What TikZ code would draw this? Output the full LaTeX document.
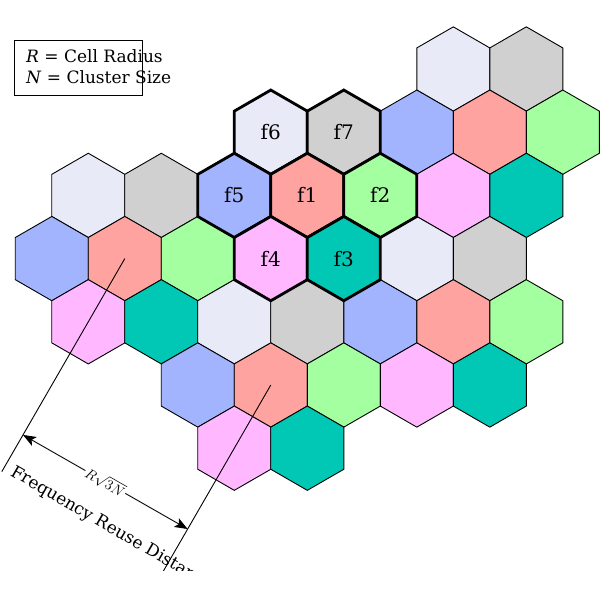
\documentclass[tikz,border=0pt]{standalone}
\usepackage{fontspec}
\setmainfont{DejaVu Serif}
\usetikzlibrary{shapes.geometric,arrows.meta,calc}
\definecolor{clav}{RGB}{232,234,248}
\definecolor{cgray}{RGB}{208,208,208}
\definecolor{cblue}{RGB}{163,180,255}
\definecolor{cred}{RGB}{255,163,160}
\definecolor{cgreen}{RGB}{164,255,160}
\definecolor{cpink}{RGB}{255,184,255}
\definecolor{cteal}{RGB}{0,200,180}
\tikzset{
  cell/.style={regular polygon, regular polygon sides=6, shape border rotate=30,
    minimum size=84.3pt, inner sep=0pt, outer sep=0pt, draw=black, line width=0.9pt,
    font=\fontsize{20}{23}\selectfont},
  cluster/.style={cell, line width=2.8pt},
  legendtext/.style={anchor=base west, inner sep=0pt, font=\fontsize{17}{20}\selectfont},
  extline/.style={line width=0.9pt},
  dimarrow/.style={line width=0.9pt, {Stealth[length=13pt,width=10pt,inset=3pt]}-{Stealth[length=13pt,width=10pt,inset=3pt]}}
}
\begin{document}
\begin{tikzpicture}[x=1pt,y=1pt]
\useasboundingbox (0,0) rectangle (600,600);
% row -2
\node[cell,fill=clav]  (a1) at (453.3,531) {};
\node[cell,fill=cgray] (a2) at (526.3,531) {};
% row -1
\node[cell,fill=cblue]  (b3) at (416.8,467.8) {};
\node[cell,fill=cred]   (b4) at (489.8,467.8) {};
\node[cell,fill=cgreen] (b5) at (562.8,467.8) {};
% row 0
\node[cell,fill=clav]  (c1) at (88.3,404.6) {};
\node[cell,fill=cgray] (c2) at (161.3,404.6) {};
\node[cell,fill=cpink] (c6) at (453.3,404.6) {};
\node[cell,fill=cteal] (c7) at (526.3,404.6) {};
% row 1
\node[cell,fill=cblue]  (d1) at (51.8,341.4) {};
\node[cell,fill=cred]   (d2) at (124.8,341.4) {};
\node[cell,fill=cgreen] (d3) at (197.8,341.4) {};
\node[cell,fill=clav]   (d6) at (416.8,341.4) {};
\node[cell,fill=cgray]  (d7) at (489.8,341.4) {};
% row 2
\node[cell,fill=cpink]  (e1) at (88.3,278.2) {};
\node[cell,fill=cteal]  (e2) at (161.3,278.2) {};
\node[cell,fill=clav]   (e3) at (234.3,278.2) {};
\node[cell,fill=cgray]  (e4) at (307.3,278.2) {};
\node[cell,fill=cblue]  (e5) at (380.3,278.2) {};
\node[cell,fill=cred]   (e6) at (453.3,278.2) {};
\node[cell,fill=cgreen] (e7) at (526.3,278.2) {};
% row 3
\node[cell,fill=cblue]  (g1) at (197.8,215) {};
\node[cell,fill=cred]   (g2) at (270.8,215) {};
\node[cell,fill=cgreen] (g3) at (343.8,215) {};
\node[cell,fill=cpink]  (g4) at (416.8,215) {};
\node[cell,fill=cteal]  (g5) at (489.8,215) {};
% row 4
\node[cell,fill=cpink]  (k1) at (234.3,151.8) {};
\node[cell,fill=cteal]  (k2) at (307.3,151.8) {};
% cluster
\node[cluster,fill=clav]   (f6) at (270.8,467.8) {f6};
\node[cluster,fill=cgray]  (f7) at (343.8,467.8) {f7};
\node[cluster,fill=cblue]  (f5) at (234.3,404.6) {f5};
\node[cluster,fill=cred]   (f1) at (307.3,404.6) {f1};
\node[cluster,fill=cgreen] (f2) at (380.3,404.6) {f2};
\node[cluster,fill=cpink]  (f4) at (270.8,341.4) {f4};
\node[cluster,fill=cteal]  (f3) at (343.8,341.4) {f3};
% legend
\node[draw, line width=0.9pt, anchor=north west, minimum width=128pt, minimum height=55pt, inner sep=0pt] (legend) at (14,560) {};
\node[legendtext] (leg1) at (26,537) {\textit{R} = Cell Radius};
\node[legendtext] (leg2) at (26,516) {\textit{N} = Cluster Size};
% reuse distance
\coordinate (p1) at ($(d2.center)+(240:203.6)$);
\coordinate (p2) at ($(g2.center)+(240:166.3)$);
\coordinate (q1) at ($(d2.center)+(240:246)$);
\coordinate (q2) at ($(g2.center)+(240:240)$);
\begin{scope}
\clip (0,29) rectangle (600,600);
\draw[extline] (d2.center) -- (q1);
\draw[extline] (g2.center) -- (q2);
\draw[dimarrow] (p1) -- node[sloped, fill=white, inner sep=1.5pt, font=\fontsize{15}{17}\selectfont] (lbl) {$R\sqrt{3N}$} (p2);
\node[rotate=-30, anchor=base west, inner sep=0pt, font=\fontsize{17}{20}\selectfont] (fr) at (9.5,125) {Frequency Reuse Distance};
\end{scope}
\end{tikzpicture}
\end{document}
